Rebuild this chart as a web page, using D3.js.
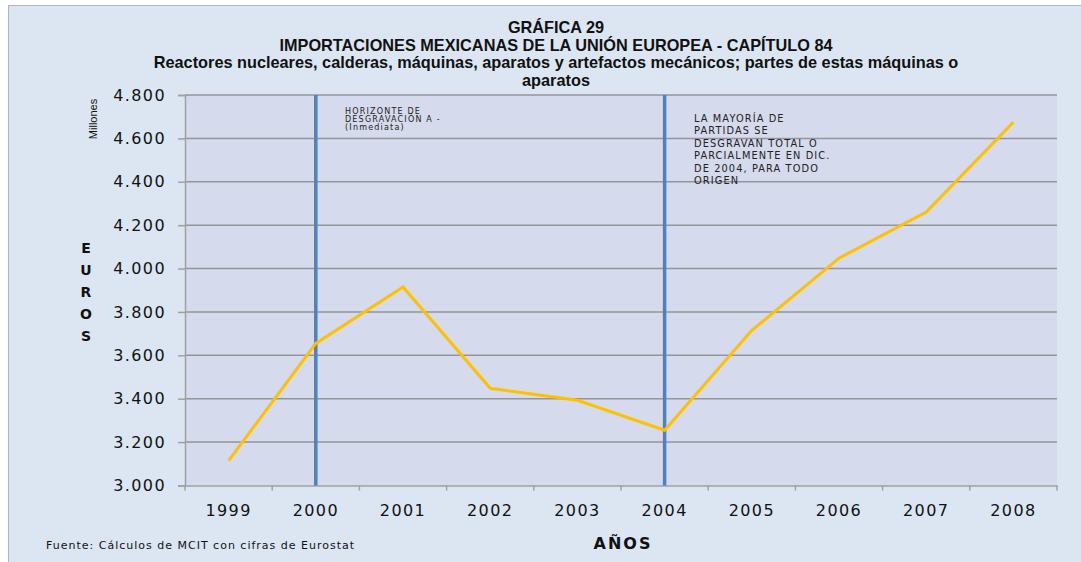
<!DOCTYPE html>
<html><head><meta charset="utf-8">
<script src="https://cdn.jsdelivr.net/npm/d3@7"></script>
<style>body{margin:0;background:#fff}svg{display:block}</style>
</head><body>
<script>
const years = ["1999","2000","2001","2002","2003","2004","2005","2006","2007","2008"];
const values = [3115, 3655, 3915, 3448, 3393, 3255, 3715, 4048, 4260, 4675];
const yTicks = [3000, 3200, 3400, 3600, 3800, 4000, 4200, 4400, 4600, 4800];
const yTickLabels = ["3.000","3.200","3.400","3.600","3.800","4.000","4.200","4.400","4.600","4.800"];
const markerYears = ["2000","2004"];
const titleLines = ["GRÁFICA 29","IMPORTACIONES MEXICANAS DE LA UNIÓN EUROPEA - CAPÍTULO 84","Reactores nucleares, calderas, máquinas, aparatos y artefactos mecánicos; partes de estas máquinas o","aparatos"];
const note1 = ["HORIZONTE DE","DESGRAVACIÓN A -","(Inmediata)"];
const note2 = ["LA MAYORÍA DE","PARTIDAS SE","DESGRAVAN  TOTAL O","PARCIALMENTE EN DIC.","DE 2004, PARA TODO","ORIGEN"];

const W=1081,H=562;
const svg=d3.select("body").append("svg").attr("width",W).attr("height",H);
svg.append("rect").attr("width",W).attr("height",H).attr("fill","#ffffff");
svg.append("rect").attr("x",8.5).attr("y",5.5).attr("width",1100).attr("height",600)
  .attr("fill","#dce6f2").attr("stroke","#b4b4b4");

const L=185,R=1057,T=95,B=485.5;
const x=d3.scaleBand().domain(years).range([L,R]);
const y=d3.scaleLinear().domain([3000,4800]).range([B,T]);

svg.append("rect").attr("x",L).attr("y",T).attr("width",R-L).attr("height",B-T).attr("fill","#d5daec");

// gridlines
svg.append("g").selectAll("line").data(yTicks.slice(1)).join("line")
  .attr("x1",L).attr("x2",R).attr("y1",d=>y(d)).attr("y2",d=>y(d))
  .attr("stroke","#959599").attr("stroke-width",1.5);

// y axis
const ya=svg.append("g").attr("transform",`translate(${L},0)`)
  .call(d3.axisLeft(y).tickValues(yTicks).tickFormat((d,i)=>yTickLabels[i]).tickSize(7).tickPadding(12));
ya.select(".domain").attr("stroke","#a0a0a0").attr("stroke-width",1.5);
ya.selectAll(".tick line").attr("stroke","#a0a0a0").attr("stroke-width",1.5);
ya.selectAll("text").attr("font-family","DejaVu Sans").attr("font-size",16).attr("letter-spacing",1.4).attr("fill","#111");

// x axis
const xa=svg.append("g").attr("transform",`translate(0,${B})`)
  .call(d3.axisBottom(x).tickSize(0).tickPadding(19));
xa.select(".domain").attr("stroke","#a0a0a0").attr("stroke-width",1.5);
xa.selectAll("text").attr("font-family","DejaVu Sans").attr("font-size",16).attr("letter-spacing",1.4).attr("fill","#111");
svg.append("g").selectAll("line").data(years.concat(["end"])).join("line")
  .attr("x1",(d,i)=>L+i*x.bandwidth()).attr("x2",(d,i)=>L+i*x.bandwidth())
  .attr("y1",B).attr("y2",B+5).attr("stroke","#a0a0a0").attr("stroke-width",1.5);

// marker lines
svg.append("g").selectAll("line").data(markerYears).join("line")
  .attr("x1",d=>x(d)+x.bandwidth()/2).attr("x2",d=>x(d)+x.bandwidth()/2)
  .attr("y1",T).attr("y2",B).attr("stroke","#4f81bd").attr("stroke-width",3.5);

// data line
const line=d3.line().x((d,i)=>x(years[i])+x.bandwidth()/2).y(d=>y(d));
svg.append("path").datum(values).attr("d",line).attr("fill","none")
  .attr("stroke","#ffc000").attr("stroke-width",3).attr("stroke-linejoin","miter");

// title
const tt=svg.append("text").attr("text-anchor","middle").attr("font-family","Liberation Sans")
  .attr("font-weight","bold").attr("font-size",16.3).attr("fill","#111");
titleLines.forEach((t,i)=>tt.append("tspan").attr("x",556).attr("y",33+i*17.6).text(t));

// notes
const n1=svg.append("text").attr("font-family","DejaVu Sans").attr("font-size",8).attr("letter-spacing",1.2).attr("fill","#222");
note1.forEach((t,i)=>n1.append("tspan").attr("x",345).attr("y",114+i*7.9).text(t));
const n2=svg.append("text").attr("font-family","DejaVu Sans").attr("font-size",9.8).attr("letter-spacing",1.1).attr("fill","#222");
note2.forEach((t,i)=>n2.append("tspan").attr("x",694).attr("y",121.5+i*12.5).text(t));

// y labels
svg.append("text").attr("transform","translate(97,119) rotate(-90)").attr("text-anchor","middle")
  .attr("font-family","Liberation Sans").attr("font-size",11).attr("fill","#111").text("Millones");
const eu="EUROS".split("");
svg.append("g").selectAll("text").data(eu).join("text").attr("x",86).attr("y",(d,i)=>253+i*22)
  .attr("text-anchor","middle").attr("font-family","DejaVu Sans").attr("font-weight","bold").attr("font-size",14).attr("fill","#111").text(d=>d);

svg.append("text").attr("x",623).attr("y",549).attr("text-anchor","middle").attr("font-family","DejaVu Sans")
  .attr("font-weight","bold").attr("font-size",16).attr("letter-spacing",2).attr("fill","#111").text("AÑOS");
svg.append("text").attr("x",46).attr("y",549).attr("font-family","DejaVu Sans").attr("font-size",11).attr("letter-spacing",1).attr("fill","#111")
  .text("Fuente:  Cálculos de MCIT con cifras de Eurostat");
</script>
</body></html>
